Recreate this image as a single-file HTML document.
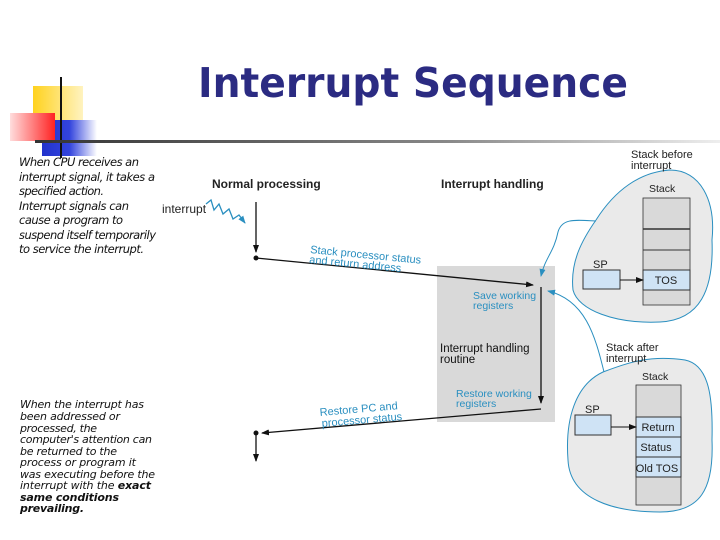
<!DOCTYPE html>
<html><head><style>
body{margin:0;background:#fff;}
svg{display:block;font-family:"Liberation Sans",sans-serif;}
</style></head><body>
<svg width="720" height="540" viewBox="0 0 720 540" xmlns="http://www.w3.org/2000/svg">
<defs>
<linearGradient id="hl" x1="0" x2="1"><stop offset="0" stop-color="#333"/><stop offset="0.6" stop-color="#888"/><stop offset="1" stop-color="#eee"/></linearGradient>
<linearGradient id="yl" x1="0" x2="1"><stop offset="0" stop-color="#ffd21e"/><stop offset="1" stop-color="#fff3c0"/></linearGradient>
<linearGradient id="rd" x1="1" x2="0"><stop offset="0" stop-color="#f22"/><stop offset="1" stop-color="#fdd"/></linearGradient>
<linearGradient id="bl" x1="0" x2="1"><stop offset="0" stop-color="#2233cc"/><stop offset="0.5" stop-color="#3344dd"/><stop offset="1" stop-color="#fff"/></linearGradient>
<marker id="a" markerWidth="8" markerHeight="8" refX="7" refY="4" orient="auto" markerUnits="userSpaceOnUse"><path d="M0,1 L8,4 L0,7z" fill="#111"/></marker>
<marker id="ab" markerWidth="8" markerHeight="8" refX="7" refY="4" orient="auto" markerUnits="userSpaceOnUse"><path d="M0,1 L8,4 L0,7z" fill="#2a8fc0"/></marker>
</defs>
<rect x="33" y="86" width="50" height="34" fill="url(#yl)"/>
<rect x="42" y="120" width="55" height="36" fill="url(#bl)"/>
<rect x="10" y="113" width="45" height="28" fill="url(#rd)"/>
<line x1="61" y1="77" x2="61" y2="158" stroke="#111" stroke-width="2"/>
<rect x="35" y="140" width="685" height="3" fill="url(#hl)"/>
<text x="198" y="97" font-family="DejaVu Sans, sans-serif" font-size="41" font-weight="bold" fill="#2b2b82" textLength="430" lengthAdjust="spacingAndGlyphs">Interrupt Sequence</text>
<g font-family="DejaVu Sans, sans-serif" font-size="11.5" font-style="italic" fill="#111" lengthAdjust="spacingAndGlyphs">
<text x="19" y="166" textLength="120">When CPU receives an</text>
<text x="19" y="181" textLength="136">interrupt signal, it takes a</text>
<text x="19" y="195" textLength="85">specified action.</text>
<text x="19" y="210" textLength="110">Interrupt signals can</text>
<text x="19" y="224" textLength="104">cause a program to</text>
<text x="19" y="239" textLength="137">suspend itself temporarily</text>
<text x="19" y="253" textLength="125">to service the interrupt.</text>
</g>
<g font-family="DejaVu Sans, sans-serif" font-size="11" font-style="italic" fill="#111" lengthAdjust="spacingAndGlyphs">
<text x="20" y="408" textLength="124">When the interrupt has</text>
<text x="20" y="420" textLength="100">been addressed or</text>
<text x="20" y="432" textLength="77">processed, the</text>
<text x="20" y="443" textLength="132">computer's attention can</text>
<text x="20" y="455" textLength="97">be returned to the</text>
<text x="20" y="466" textLength="116">process or program it</text>
<text x="20" y="478" textLength="135">was executing before the</text>
<text x="20" y="489" textLength="131">interrupt with the <tspan font-weight="bold">exact</tspan></text>
<text x="20" y="501" font-weight="bold" textLength="99">same conditions</text>
<text x="20" y="512" font-weight="bold" textLength="64">prevailing.</text>
</g>
<text x="212" y="188" font-size="12" font-weight="bold" fill="#222">Normal processing</text>
<text x="441" y="188" font-size="12" font-weight="bold" fill="#222">Interrupt handling</text>
<text x="162" y="213" font-size="12" fill="#222">interrupt</text>
<path d="M206,204 l5,-4 l3,10 l5,-6 l4,10 l6,-5 l4,10 l6,-4 l6,8" fill="none" stroke="#2a8fc0" stroke-width="1.3" marker-end="url(#ab)"/>
<rect x="437" y="266" width="118" height="156" fill="#d9d9d9"/>
<line x1="256" y1="202" x2="256" y2="252" stroke="#111" stroke-width="1.3" marker-end="url(#a)"/>
<circle cx="256" cy="258" r="2.5" fill="#111"/>
<line x1="256" y1="258" x2="533" y2="285" stroke="#111" stroke-width="1.3" marker-end="url(#a)"/>
<text transform="translate(310,253) rotate(5.5)" font-size="11" fill="#2a8fc0">Stack processor status</text>
<text transform="translate(309,263) rotate(5.5)" font-size="11" fill="#2a8fc0">and return address</text>
<line x1="541" y1="287" x2="541" y2="403" stroke="#111" stroke-width="1.3" marker-end="url(#a)"/>
<line x1="541" y1="409" x2="262" y2="433" stroke="#111" stroke-width="1.3" marker-end="url(#a)"/>
<circle cx="256" cy="433" r="2.5" fill="#111"/>
<line x1="256" y1="433" x2="256" y2="461" stroke="#111" stroke-width="1.3" marker-end="url(#a)"/>
<text x="473" y="299" font-size="10.5" fill="#2a8fc0">Save working</text>
<text x="473" y="309" font-size="10.5" fill="#2a8fc0">registers</text>
<text x="440" y="352" font-size="11.5" fill="#111">Interrupt handling</text>
<text x="440" y="363" font-size="11.5" fill="#111">routine</text>
<text x="456" y="397" font-size="10.5" fill="#2a8fc0">Restore working</text>
<text x="456" y="407" font-size="10.5" fill="#2a8fc0">registers</text>
<text transform="translate(320,416) rotate(-5)" font-size="11" fill="#2a8fc0">Restore PC and</text>
<text transform="translate(322,427) rotate(-5)" font-size="11" fill="#2a8fc0">processor status</text>
<!-- blobs -->
<path d="M596,220 C615,190 640,172 670,170 C700,170 716,200 712,240 C714,290 700,320 660,322 C615,324 578,310 573,290 C570,262 582,240 596,220 Z" fill="#eaeaea" stroke="#2a8fc0" stroke-width="1"/>
<path d="M603,372 C630,362 650,355 685,360 C710,365 713,400 712,440 C714,490 700,512 660,512 C615,512 570,500 568,460 C565,420 575,385 603,372 Z" fill="#eaeaea" stroke="#2a8fc0" stroke-width="1"/>
<path d="M596,221 C575,220 562,218 558,232 C554,252 545,258 541,276" fill="none" stroke="#2a8fc0" stroke-width="1" marker-end="url(#ab)"/>
<path d="M604,372 C595,335 585,300 548,291" fill="none" stroke="#2a8fc0" stroke-width="1" marker-end="url(#ab)"/>
<text x="631" y="158" font-size="11" fill="#222">Stack before</text>
<text x="631" y="169" font-size="11" fill="#222">interrupt</text>
<text x="649" y="192" font-size="10.5" fill="#222">Stack</text>
<rect x="643" y="198" width="47" height="107" fill="#d9d9d9" stroke="#333" stroke-width="0.8"/>
<line x1="643" y1="229" x2="690" y2="229" stroke="#333" stroke-width="1.5"/>
<line x1="643" y1="250" x2="690" y2="250" stroke="#333"/>
<rect x="643" y="270" width="47" height="20" fill="#cfe3f5" stroke="#333"/>
<text x="666" y="284" font-size="11" text-anchor="middle" fill="#222">TOS</text>
<rect x="583" y="270" width="37" height="19" fill="#cfe3f5" stroke="#333"/>
<text x="593" y="268" font-size="11" fill="#222">SP</text>
<line x1="620" y1="280" x2="643" y2="280" stroke="#111" marker-end="url(#a)"/>
<text x="606" y="351" font-size="11" fill="#222">Stack after</text>
<text x="606" y="362" font-size="11" fill="#222">interrupt</text>
<text x="642" y="380" font-size="10.5" fill="#222">Stack</text>
<rect x="636" y="385" width="45" height="120" fill="#d9d9d9" stroke="#333" stroke-width="0.8"/>
<rect x="636" y="417" width="45" height="20" fill="#cfe3f5" stroke="#333"/>
<rect x="636" y="437" width="45" height="20" fill="#cfe3f5" stroke="#333"/>
<rect x="636" y="457" width="45" height="20" fill="#cfe3f5" stroke="#333"/>
<text x="658" y="431" font-size="11" text-anchor="middle" fill="#222">Return</text>
<text x="656" y="451" font-size="11" text-anchor="middle" fill="#222">Status</text>
<text x="657" y="472" font-size="11" text-anchor="middle" fill="#222">Old TOS</text>
<rect x="575" y="415" width="36" height="20" fill="#cfe3f5" stroke="#333"/>
<text x="585" y="413" font-size="11" fill="#222">SP</text>
<line x1="611" y1="427" x2="636" y2="427" stroke="#111" marker-end="url(#a)"/>
</svg>
</body></html>
